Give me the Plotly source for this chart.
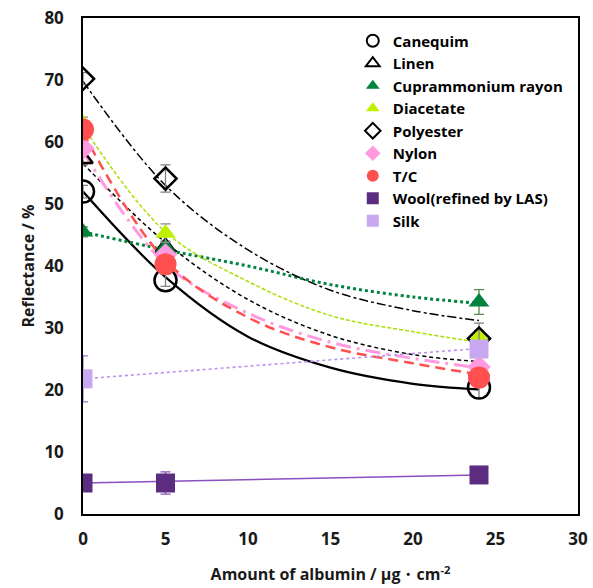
import plotly.graph_objects as go

# ---- data ----
x_pts = [0, 5, 24]
canequim = [52.0, 37.7, 20.4]
linen = [57.3, 43.0, 23.0]
cupra = [45.5, 43.0, 34.2]
diacetate = [63.0, 45.3, 28.6]
polyester = [70.2, 54.1, 28.3]
nylon = [59.0, 41.8, 23.7]
tc = [62.0, 40.3, 22.0]
wool = [5.0, 5.0, 6.3]
x_silk = [0, 24]
silk = [21.8, 26.6]

canequim_err = [1.0, 1.0, 1.7]
linen_err = [1.0, 1.0, 1.0]
cupra_err = [0.8, 0.8, 2.0]
diacetate_err = [1.0, 1.5, 1.0]
polyester_err = [1.0, 2.2, 2.5]
nylon_err = [0.5, 0.5, 0.5]
tc_err = [0.5, 0.5, 0.5]
wool_err = [0.5, 1.8, 0.5]
silk_err = [3.7, 1.0]

# trend-line values
x_fit = [0, 5, 10, 15, 20, 24]
canequim_fit = [52.0, 38.2, 28.6, 23.6, 21.0, 20.1]
linen_fit = [56.5, 43.8, 34.6, 28.8, 25.7, 24.6]
cupra_fit = [45.5, 42.6, 40.0, 37.0, 35.0, 34.0]
diacetate_fit = [62.5, 45.5, 37.5, 32.0, 29.4, 27.7]
polyester_fit = [69.8, 53.0, 42.6, 36.1, 32.8, 31.2]
nylon_fit = [58.5, 40.3, 32.4, 27.7, 25.1, 23.6]
tc_fit = [61.5, 40.9, 31.7, 26.9, 24.3, 22.5]
x_lin = [0, 24]
wool_fit = [5.0, 6.3]
silk_fit = [21.8, 26.7]

names = ["Canequim", "Linen", "Cuprammonium rayon", "Diacetate", "Polyester",
         "Nylon", "T/C", "Wool(refined by LAS)", "Silk"]

series = [
    (names[0], x_pts, canequim, canequim_err, "circle-open", 22, "#000000", True, "#7f7f7f",
     x_fit, canequim_fit, "#000000", "solid", 2.2),
    (names[1], x_pts, linen, linen_err, "triangle-up-open", 17, "#000000", True, "#7f7f7f",
     x_fit, linen_fit, "#000000", "4px,3px", 1.5),
    (names[2], x_pts, cupra, cupra_err, "triangle-up", 18, "#00843d", False, "#5a8a4a",
     x_fit, cupra_fit, "#00843d", "dot", 3),
    (names[3], x_pts, diacetate, diacetate_err, "triangle-up", 18, "#bff000", False, "#8a8a8a",
     x_fit, diacetate_fit, "#a8e000", "4px,2px", 1.5),
    (names[4], x_pts, polyester, polyester_err, "diamond-open", 17, "#000000", True, "#7f7f7f",
     x_fit, polyester_fit, "#000000", "dashdot", 1.5),
    (names[5], x_pts, nylon, nylon_err, "diamond", 18, "#ff99e0", False, "#ff99e0",
     x_fit, nylon_fit, "#ff99e0", "longdashdot", 3),
    (names[6], x_pts, tc, tc_err, "circle", 22, "#ff4f4f", False, "#ff4f4f",
     x_fit, tc_fit, "#ff4f4f", "10px,6px", 2.5),
    (names[7], x_pts, wool, wool_err, "square", 19, "#5b2c7f", False, "#8a4fc0",
     x_lin, wool_fit, "#8a4fc0", "solid", 1.6),
    (names[8], x_silk, silk, silk_err, "square", 19, "#c8a8f0", False, "#a070e0",
     x_lin, silk_fit, "#b890f0", "dot", 1.6),
]

fig = go.Figure()

for s in series:
    (name, xs, ys, err, sym, size, mcol, is_open, ecol, fx, fy, lcol, dash, lw) = s
    fig.add_trace(go.Scatter(
        x=fx, y=fy, mode="lines",
        line=dict(color=lcol, dash=dash, width=lw, shape="spline", smoothing=1.0),
        showlegend=False, hoverinfo="skip"))

for s in series:
    (name, xs, ys, err, sym, size, mcol, is_open, ecol, fx, fy, lcol, dash, lw) = s
    if is_open:
        marker = dict(symbol=sym, size=size, color=mcol, line=dict(color=mcol, width=2.5))
    else:
        marker = dict(symbol=sym, size=size, color=mcol, line=dict(width=0))
    fig.add_trace(go.Scatter(
        x=xs, y=ys, mode="markers", name=name, marker=marker,
        error_y=dict(type="data", array=err, visible=True, color=ecol,
                     thickness=1.3, width=5)))

font_family = "'Open Sans', Lato, sans-serif"
tick_font = dict(family=font_family, size=17, color="#1a1a1a", weight="bold")
title_font = dict(family=font_family, size=16, color="#1a1a1a", weight="bold")

fig.update_layout(
    width=593, height=588,
    margin=dict(l=83, r=15, t=18, b=74),
    paper_bgcolor="white", plot_bgcolor="white",
    font=dict(family=font_family, size=16, color="#1a1a1a", weight="bold"),
    showlegend=True,
    legend=dict(x=0.545, y=0.987, xanchor="left", yanchor="top",
                bgcolor="rgba(0,0,0,0)", borderwidth=0,
                font=dict(family=font_family, size=15, color="#000000", weight="bold"),
                itemsizing="constant", tracegroupgap=0, itemwidth=30),
    xaxis=dict(range=[0, 30], tickvals=[0, 5, 10, 15, 20, 25, 30],
               showgrid=False, zeroline=False, showline=True, linecolor="black",
               linewidth=1.5, mirror=True, ticks="", ticklen=0, ticklabelstandoff=9,
               automargin=False, tickfont=tick_font,
               title=dict(text="Amount of albumin / μg・cm<sup>-2</sup>", standoff=20,
                          font=title_font)),
    yaxis=dict(range=[0, 80], tickvals=[0, 10, 20, 30, 40, 50, 60, 70, 80],
               showgrid=False, zeroline=False, showline=True, linecolor="black",
               linewidth=1.5, mirror=True, ticks="", ticklen=0, ticklabelstandoff=14,
               automargin=False, tickfont=tick_font,
               title=dict(text="Reflectance / %", standoff=6, font=title_font)),
)

fig.write_html("out.html")
